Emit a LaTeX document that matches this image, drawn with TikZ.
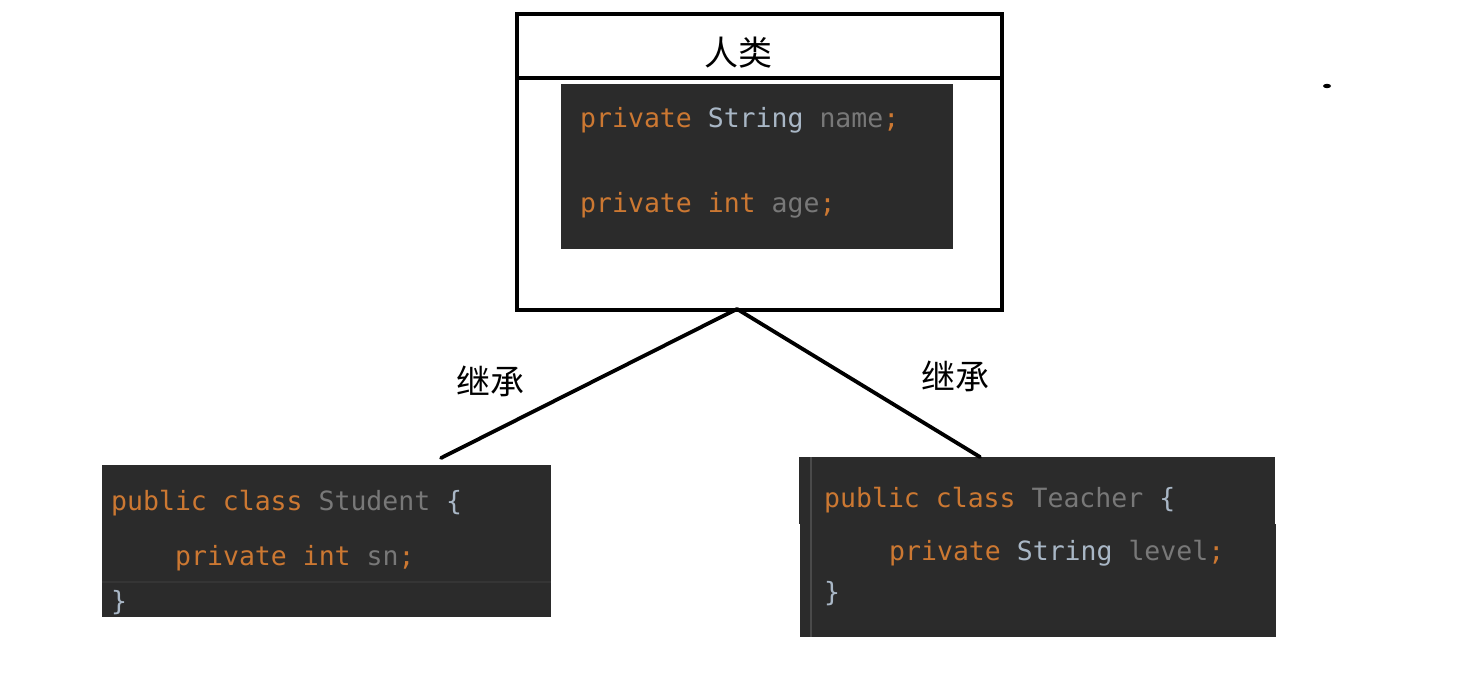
\documentclass[tikz,border=0pt]{standalone}
\usepackage{fontspec}
\setmonofont{DejaVu Sans Mono}
\newfontfamily\cjk{Noto Sans CJK SC}
\definecolor{codebg}{HTML}{2B2B2B}
\definecolor{kw}{HTML}{CC7832}
\definecolor{ty}{HTML}{A9B7C6}
\definecolor{unused}{HTML}{787878}
\definecolor{gutter}{HTML}{4A4A4A}
\definecolor{sepline}{HTML}{353535}
\tikzset{
  code/.style={anchor=base west, inner sep=0pt, font=\ttfamily\fontsize{26.5}{30}\selectfont},
  cjklabel/.style={inner sep=0pt, font=\cjk\fontsize{34}{36}\selectfont, text=black},
  frame/.style={draw=black, line width=4pt},
  link/.style={draw=black, line width=3.8pt, line cap=round},
  panel/.style={fill=codebg, draw=none},
}
\newcommand{\K}[1]{\textcolor{kw}{#1}}
\newcommand{\T}[1]{\textcolor{ty}{#1}}
\newcommand{\U}[1]{\textcolor{unused}{#1}}
\begin{document}
\begin{tikzpicture}[x=1pt,y=-1pt]
\useasboundingbox (0,0) rectangle (1472,698);
% superclass box
\draw[frame] (517,14) rectangle (1002,310);
\draw[frame] (517,78) -- (1002,78);
\node[cjklabel] (title) at (738,53) {人类};
\fill[panel] (561,84) rectangle (953,249);
\node[code] (f1) at (580,128) {\K{private} \T{String} \U{name}\K{;}};
\node[code] (f2) at (580,212) {\K{private} \K{int} \U{age}\K{;}};
\coordinate (top) at (737,309);
% Student
\fill[panel] (102,465) rectangle (551,617);
\draw[sepline, line width=1.5pt] (102,582) -- (551,582);
\node[code] (s1) at (111,510) {\K{public} \K{class} \U{Student} \T{\{}};
\node[code] (s2) at (175,565) {\K{private} \K{int} \U{sn}\K{;}};
\node[code] (s3) at (111,610) {\T{\}}};
\coordinate (sTop) at (441,458);
% Teacher
\fill[panel] (799,457) rectangle (1275,524);
\fill[panel] (800,524) rectangle (1276,637);
\draw[gutter, line width=2pt] (811,457) -- (811,637);
\node[code] (t1) at (824,507) {\K{public} \K{class} \U{Teacher} \T{\{}};
\node[code] (t2) at (889,560) {\K{private} \T{String} \U{level}\K{;}};
\node[code] (t3) at (824,601) {\T{\}}};
\coordinate (tTop) at (980,457);
% connectors
\draw[link] (top) -- (sTop);
\draw[link] (top) -- (tTop);
\node[cjklabel] (l1) at (490,381) {继承};
\node[cjklabel] (l2) at (955,376) {继承};
% dot
\fill[black] (1327,86) ellipse (4pt and 2.2pt);
\end{tikzpicture}
\end{document}
